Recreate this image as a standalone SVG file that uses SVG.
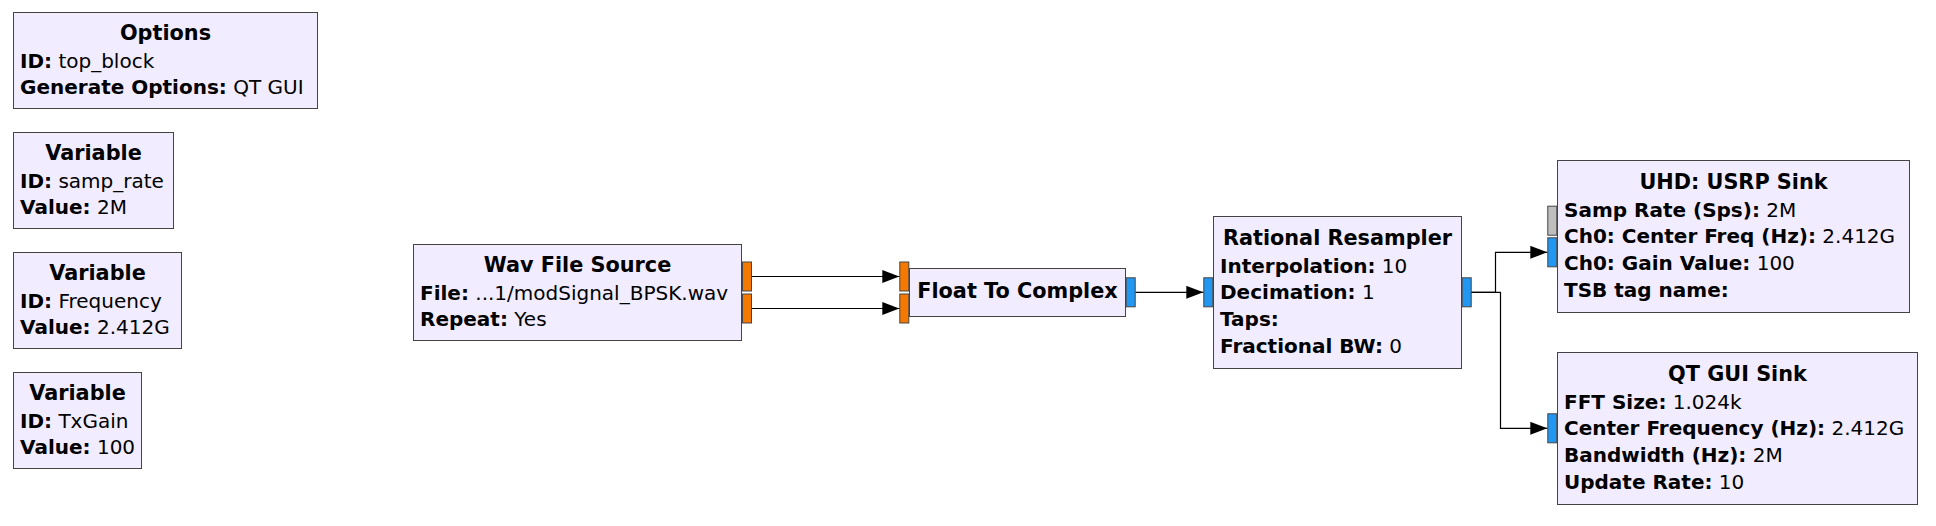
<svg xmlns="http://www.w3.org/2000/svg" width="1936" height="526" viewBox="0 0 1936 526">
<style>
.blk{fill:#F1ECFF;stroke:#444444;stroke-width:1}
.pf{fill:#F57900;stroke:#444444;stroke-width:1}
.pc{fill:#2196F3;stroke:#444444;stroke-width:1}
.pm{fill:#BEBEBE;stroke:#444444;stroke-width:1}
text{font-family:"DejaVu Sans","Liberation Sans",sans-serif;fill:#000}
.t{font-size:20.8px;font-weight:bold;text-anchor:middle}
.p{font-size:20px}
.k{font-weight:bold}
.c{fill:none;stroke:#000;stroke-width:1.2}
</style>
<defs>
<marker id="arr" markerUnits="userSpaceOnUse" markerWidth="18" markerHeight="14" refX="17" refY="6.5" orient="auto">
<path d="M0,0 L17,6.5 L0,13 z" fill="#000"/>
</marker>
</defs>
<rect width="1936" height="526" fill="#fff"/>

<g id="options">
<rect class="blk" x="13.5" y="12.5" width="304" height="96"/>
<text class="t" x="165.5" y="39.7">Options</text>
<text class="p" x="20" y="67.7"><tspan class="k">ID:</tspan> top_block</text>
<text class="p" x="20" y="94.4"><tspan class="k">Generate Options:</tspan> QT GUI</text>
</g>

<g id="var_samp_rate">
<rect class="blk" x="13.5" y="132.5" width="160" height="96"/>
<text class="t" x="93.5" y="159.7">Variable</text>
<text class="p" x="20" y="187.7"><tspan class="k">ID:</tspan> samp_rate</text>
<text class="p" x="20" y="214.4"><tspan class="k">Value:</tspan> 2M</text>
</g>

<g id="var_frequency">
<rect class="blk" x="13.5" y="252.5" width="168" height="96"/>
<text class="t" x="97.5" y="279.7">Variable</text>
<text class="p" x="20" y="307.7"><tspan class="k">ID:</tspan> Frequency</text>
<text class="p" x="20" y="334.4"><tspan class="k">Value:</tspan> 2.412G</text>
</g>

<g id="var_txgain">
<rect class="blk" x="13.5" y="372.5" width="128" height="96"/>
<text class="t" x="77.5" y="399.7">Variable</text>
<text class="p" x="20" y="427.7"><tspan class="k">ID:</tspan> TxGain</text>
<text class="p" x="20" y="454.4"><tspan class="k">Value:</tspan> 100</text>
</g>

<g id="wav_file_source">
<rect class="blk" x="413.5" y="244.5" width="328" height="96"/>
<rect class="pf" x="742.5" y="262" width="9" height="29"/>
<rect class="pf" x="742.5" y="294" width="9" height="29"/>
<text class="t" x="577.5" y="271.7">Wav File Source</text>
<text class="p" x="420" y="299.7"><tspan class="k">File:</tspan> ...1/modSignal_BPSK.wav</text>
<text class="p" x="420" y="326.4"><tspan class="k">Repeat:</tspan> Yes</text>
</g>

<g id="float_to_complex">
<rect class="pf" x="899.8" y="262" width="9" height="29"/>
<rect class="pf" x="899.8" y="294" width="9" height="29"/>
<rect class="blk" x="909.5" y="268.5" width="216" height="48"/>
<rect class="pc" x="1126.2" y="277.8" width="9" height="29"/>
<text class="t" x="1017.5" y="298.3">Float To Complex</text>
</g>

<g id="rational_resampler">
<rect class="pc" x="1203.8" y="277.8" width="9" height="29"/>
<rect class="blk" x="1213.5" y="216.5" width="248" height="152"/>
<rect class="pc" x="1462.2" y="277.8" width="9" height="29"/>
<text class="t" x="1337.5" y="244.8">Rational Resampler</text>
<text class="p" x="1220" y="272.5"><tspan class="k">Interpolation:</tspan> 10</text>
<text class="p" x="1220" y="299.2"><tspan class="k">Decimation:</tspan> 1</text>
<text class="p" x="1220" y="325.9"><tspan class="k">Taps:</tspan></text>
<text class="p" x="1220" y="352.6"><tspan class="k">Fractional BW:</tspan> 0</text>
</g>

<g id="uhd_usrp_sink">
<rect class="pm" x="1547.8" y="206.2" width="9" height="29"/>
<rect class="pc" x="1547.8" y="237.8" width="9" height="29"/>
<rect class="blk" x="1557.5" y="160.5" width="352" height="152"/>
<text class="t" x="1733.5" y="188.8">UHD: USRP Sink</text>
<text class="p" x="1564" y="216.5"><tspan class="k">Samp Rate (Sps):</tspan> 2M</text>
<text class="p" x="1564" y="243.2"><tspan class="k">Ch0: Center Freq (Hz):</tspan> 2.412G</text>
<text class="p" x="1564" y="269.9"><tspan class="k">Ch0: Gain Value:</tspan> 100</text>
<text class="p" x="1564" y="296.6"><tspan class="k">TSB tag name:</tspan></text>
</g>

<g id="qt_gui_sink">
<rect class="pc" x="1547.8" y="413.8" width="9" height="29"/>
<rect class="blk" x="1557.5" y="352.5" width="360" height="152"/>
<text class="t" x="1737.5" y="380.8">QT GUI Sink</text>
<text class="p" x="1564" y="408.5"><tspan class="k">FFT Size:</tspan> 1.024k</text>
<text class="p" x="1564" y="435.2"><tspan class="k">Center Frequency (Hz):</tspan> 2.412G</text>
<text class="p" x="1564" y="461.9"><tspan class="k">Bandwidth (Hz):</tspan> 2M</text>
<text class="p" x="1564" y="488.6"><tspan class="k">Update Rate:</tspan> 10</text>
</g>

<g id="connectors">
<path class="c" d="M752,276.5 H899.3" marker-end="url(#arr)"/>
<path class="c" d="M752,308.5 H899.3" marker-end="url(#arr)"/>
<path class="c" d="M1135.7,292.3 H1203.3" marker-end="url(#arr)"/>
<path class="c" d="M1471.7,292.3 H1495.5 V252.3 H1547.3" marker-end="url(#arr)"/>
<path class="c" d="M1471.7,292.3 H1500.5 V428.3 H1547.3" marker-end="url(#arr)"/>
</g>
</svg>
